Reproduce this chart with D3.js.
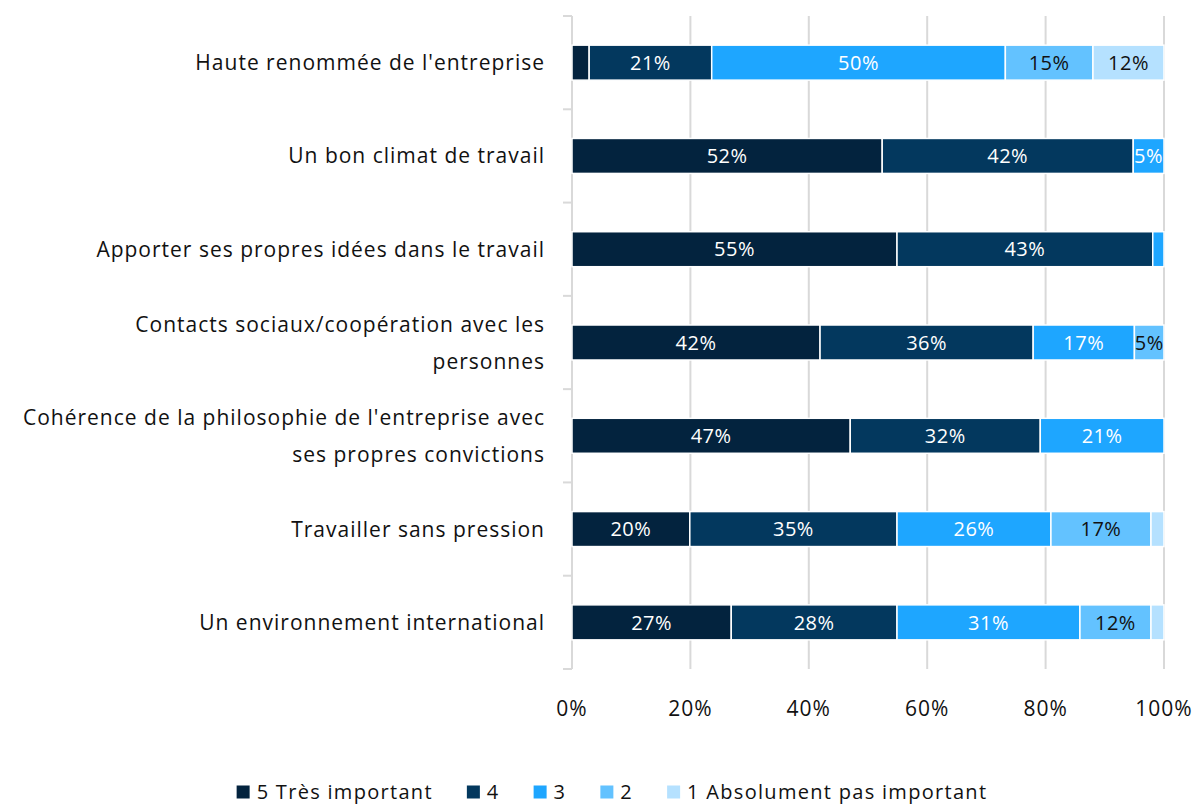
<!DOCTYPE html>
<html>
<head>
<meta charset="utf-8">
<script src="https://cdn.jsdelivr.net/npm/d3@7"></script>
<style>
  body { margin: 0; background: #fff; }
  svg { font-family: "Open Sans", sans-serif; letter-spacing: 1px; }
</style>
</head>
<body>
<svg id="chart" width="1195" height="808"></svg>
<script>
// data
var categories = [
  ["Haute renommée de l'entreprise"],
  ["Un bon climat de travail"],
  ["Apporter ses propres idées dans le travail"],
  ["Contacts sociaux/coopération avec les", "personnes"],
  ["Cohérence de la philosophie de l'entreprise avec", "ses propres convictions"],
  ["Travailler sans pression"],
  ["Un environnement international"]
];
var seriesNames = ["5 Très important", "4", "3", "2", "1 Absolument pas important"];
var s5 = [2.9, 52.4, 54.9, 41.9, 47.0, 19.9, 26.9];
var s4 = [20.7, 42.4, 43.2, 36.0, 32.1, 35.0, 28.0];
var s3 = [49.6, 5.2, 1.9, 17.1, 20.9, 26.0, 30.9];
var s2 = [14.8, 0, 0, 5.0, 0, 16.9, 12.0];
var s1 = [12.0, 0, 0, 0, 0, 2.2, 2.2];
var xTicks = [0, 20, 40, 60, 80, 100];

var colors = ["#03233e", "#03385e", "#1ea6ff", "#63c2ff", "#b5e1ff"];
var textColors = ["#fff", "#fff", "#fff", "#111", "#111"];

var margin = {top: 16, left: 572, right: 31};
var width = 1195 - margin.left - margin.right;
var plotH = 653;

var svg = d3.select("#chart");
var g = svg.append("g").attr("transform", "translate(" + margin.left + "," + margin.top + ")");

var x = d3.scaleLinear().domain([0, 100]).range([0, width]);
var y = d3.scaleBand().domain(d3.range(categories.length)).range([0, plotH]).paddingInner(0.625).paddingOuter(0.3125);

// gridlines
g.selectAll(".grid")
  .data(xTicks.slice(1))
  .enter().append("line")
  .attr("x1", function(d) { return x(d); })
  .attr("x2", function(d) { return x(d); })
  .attr("y1", 0)
  .attr("y2", plotH)
  .attr("stroke", "#d9d9d9")
  .attr("stroke-width", 2);

// left axis with ticks at band edges
var step = plotH / categories.length;
g.append("line").attr("x1", 0).attr("x2", 0).attr("y1", 0).attr("y2", plotH)
  .attr("stroke", "#d9d9d9").attr("stroke-width", 2);
g.selectAll(".ytick")
  .data(d3.range(categories.length + 1))
  .enter().append("line")
  .attr("x1", -9).attr("x2", 0)
  .attr("y1", function(d) { return d * step; })
  .attr("y2", function(d) { return d * step; })
  .attr("stroke", "#d9d9d9").attr("stroke-width", 2);

// stack
var rows = categories.map(function(c, i) {
  return {i: i, v: [s5[i], s4[i], s3[i], s2[i], s1[i]]};
});
var stack = d3.stack().keys([0, 1, 2, 3, 4]).value(function(d, k) { return d.v[k]; });
var layers = stack(rows);

var layer = g.selectAll(".layer")
  .data(layers)
  .enter().append("g")
  .attr("fill", function(d, k) { return colors[k]; });

layer.selectAll("rect")
  .data(function(d) { return d.filter(function(p) { return p[1] - p[0] > 0; }); })
  .enter().append("rect")
  .attr("x", function(d) { return x(d[0]); })
  .attr("y", function(d) { return y(d.data.i); })
  .attr("width", function(d) { return x(d[1]) - x(d[0]); })
  .attr("height", y.bandwidth())
  .attr("stroke", "#fff")
  .attr("stroke-width", 1.5);

layer.each(function(L, k) {
  d3.select(this).selectAll("text")
    .data(L.filter(function(p) { return p[1] - p[0] >= 4; }))
    .enter().append("text")
    .attr("x", function(d) { return x((d[0] + d[1]) / 2); })
    .attr("y", function(d) { return y(d.data.i) + y.bandwidth() / 2; })
    .attr("dy", "0.36em")
    .attr("text-anchor", "middle")
    .attr("fill", textColors[k])
    .style("font-size", "20px")
    .style("letter-spacing", "0.5px")
    .text(function(d) { return Math.round(d[1] - d[0]) + "%"; });
});

// category labels
g.selectAll(".cat")
  .data(categories)
  .enter().append("text")
  .attr("text-anchor", "end")
  .attr("fill", "#111")
  .style("font-size", "21px")
  .each(function(lines, i) {
    var t = d3.select(this);
    var cy = y(i) + y.bandwidth() / 2;
    var lh = 37;
    var y0 = cy - (lines.length - 1) * lh / 2;
    lines.forEach(function(s, j) {
      t.append("tspan").attr("x", -27).attr("y", y0 + j * lh).attr("dy", "0.36em").text(s);
    });
  });

// x axis labels
g.selectAll(".xlab")
  .data(xTicks)
  .enter().append("text")
  .attr("x", function(d) { return x(d); })
  .attr("y", plotH + 47)
  .attr("text-anchor", "middle")
  .attr("fill", "#111")
  .style("font-size", "21px")
  .text(function(d) { return d + "%"; });

// legend
var legendY = 792;
var legend = svg.append("g");
var items = legend.selectAll("g").data(seriesNames).enter().append("g");
items.append("rect").attr("y", -6.5).attr("width", 13).attr("height", 13)
  .attr("fill", function(d, k) { return colors[k]; });
items.append("text").attr("x", 20).attr("dy", "0.36em")
  .attr("fill", "#111").style("font-size", "20px").style("letter-spacing", "1.3px")
  .text(function(d) { return d; });
var pos = 0;
items.each(function() {
  var w = this.getBBox().width;
  d3.select(this).attr("transform", "translate(" + pos + ",0)");
  pos += w + 34;
});
var total = pos - 34;
legend.attr("transform", "translate(" + (612 - total / 2) + "," + legendY + ")");
</script>
</body>
</html>
